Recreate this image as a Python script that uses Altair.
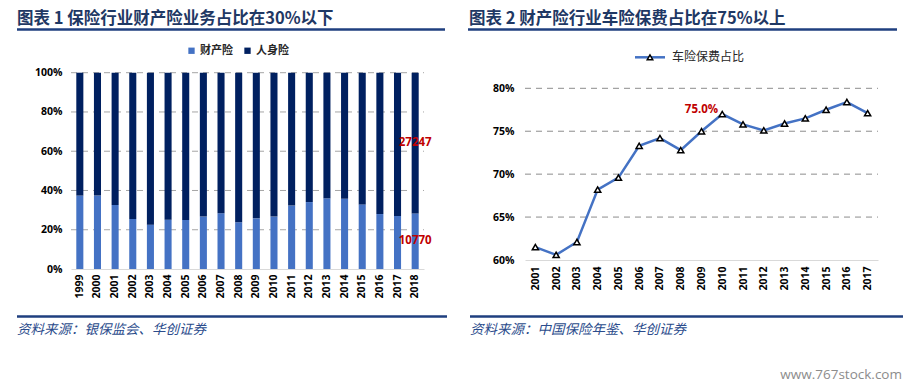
import altair as alt
import pandas as pd

# ---------------- data ----------------
years_left = [str(y) for y in range(1999, 2019)]
property_share = [0.374, 0.374, 0.326, 0.255, 0.226, 0.251, 0.250, 0.267, 0.284, 0.238,
                  0.258, 0.267, 0.323, 0.341, 0.360, 0.358, 0.329, 0.280, 0.270, 0.283]
series_names = ["财产险", "人身险"]
label_2018 = ["10770", "27247"]

years_right = [str(y) for y in range(2001, 2018)]
auto_share = [0.615, 0.606, 0.621, 0.682, 0.696, 0.733, 0.742, 0.728, 0.750, 0.770,
              0.758, 0.751, 0.759, 0.765, 0.775, 0.784, 0.771]
line_name = "车险保费占比"
highlight_year = "2009"

ticks_left = [0, 0.2, 0.4, 0.6, 0.8, 1.0]
ticks_right = [0.60, 0.65, 0.70, 0.75, 0.80]

title_left = "图表 1  保险行业财产险业务占比在30%以下"
title_right = "图表 2  财产险行业车险保费占比在75%以上"
source_left = "资料来源：银保监会、华创证券"
source_right = "资料来源：中国保险年鉴、华创证券"
watermark = "www.767stock.com"

# ---------------- tables ----------------
rows = []
for y, p in zip(years_left, property_share):
    rows.append({"year": y, "series": series_names[0], "share": p, "ord": 0})
    rows.append({"year": y, "series": series_names[1], "share": 1 - p, "ord": 1})
bars_df = pd.DataFrame(rows)

p18 = property_share[-1]
lab_df = pd.DataFrame({
    "year": [years_left[-1]] * 2,
    "pos": [p18 / 2, p18 + (1 - p18) / 2],
    "text": label_2018,
})
line_df = pd.DataFrame({"year": years_right, "share": auto_share})

AX_FONT = "Open Sans"
CJK = "Noto Sans CJK SC"
NAVY = "#1F3864"
RULE = "#1F3F7F"
BAR_LIGHT = "#4472C4"
BAR_DARK = "#002060"

W, H = 895, 376


def axis_common(**kw):
    base = dict(ticks=False, labelFont=AX_FONT, labelFontSize=10.5, labelFontWeight="bold",
                labelColor="#000000", title=None)
    base.update(kw)
    return alt.Axis(**base)


# ---------------- left panel ----------------
def xl():
    return alt.Scale(domain=years_left, range=[63, 416], paddingInner=0.6, paddingOuter=0.3)


def yl():
    return alt.Scale(domain=[0, 1], range=[261, 64.7], nice=False, zero=True)


grid_l = alt.Chart(pd.DataFrame({"v": ticks_left[1:]})).mark_rule(
    color="#A6A6A6", strokeDash=[6, 5], strokeWidth=1
).encode(
    y=alt.Y("v:Q", scale=yl(), axis=None),
    x=alt.value(63), x2=alt.value(416),
)

bars = alt.Chart(bars_df).mark_bar().encode(
    x=alt.X("year:N", scale=xl(), sort=years_left,
            axis=axis_common(orient="bottom", offset=-115, labelAngle=270, domainColor="#D9D9D9",
                             domainWidth=1, labelPadding=5)),
    y=alt.Y("share:Q", scale=yl(), stack="zero",
            axis=axis_common(orient="left", offset=-63, values=ticks_left, format=".0%",
                             domain=False, grid=False, labelPadding=9)),
    color=alt.Color("series:N", scale=alt.Scale(domain=series_names, range=[BAR_LIGHT, BAR_DARK]),
                    legend=alt.Legend(title=None, orient="none", direction="horizontal",
                                      legendX=178, legendY=37, symbolType="square", symbolSize=40,
                                      symbolStrokeWidth=0, labelFont=CJK, labelFontSize=11,
                                      labelFontWeight="bold", labelColor="#262626",
                                      labelOffset=3, columnPadding=9, padding=0)),
    order=alt.Order("ord:Q"),
)

labels_l = alt.Chart(lab_df).mark_text(
    color="#C00000", font=AX_FONT, fontSize=11.5, fontWeight="bold", baseline="middle", align="center"
).encode(
    x=alt.X("year:N", scale=xl(), axis=None),
    y=alt.Y("pos:Q", scale=yl(), axis=None),
    text="text:N",
)

# ---------------- right panel ----------------
def xr():
    return alt.Scale(type="point", domain=years_right, range=[517, 870], padding=0.5)


def yr():
    return alt.Scale(domain=[0.6, 0.8], range=[252, 80.3], nice=False, zero=False)


grid_r = alt.Chart(pd.DataFrame({"v": ticks_right[1:]})).mark_rule(
    color="#8C8C8C", strokeDash=[6, 5], strokeWidth=1
).encode(
    y=alt.Y("v:Q", scale=yr(), axis=None),
    x=alt.value(517), x2=alt.value(870),
)

line = alt.Chart(line_df).mark_line(color=BAR_LIGHT, strokeWidth=2.5).encode(
    x=alt.X("year:N", scale=xr(), sort=years_right,
            axis=axis_common(orient="bottom", offset=-124, labelAngle=270, domainColor="#D9D9D9",
                             domainWidth=1, labelPadding=6)),
    y=alt.Y("share:Q", scale=yr(),
            axis=axis_common(orient="left", offset=-517, values=ticks_right, format=".0%",
                             domain=False, grid=False, labelPadding=11)),
)

pts = alt.Chart(line_df).mark_point(
    shape="triangle-up", filled=True, fill="#FFFFFF", stroke="#000000", strokeWidth=1.5,
    size=38, opacity=1
).encode(
    x=alt.X("year:N", scale=xr(), axis=None),
    y=alt.Y("share:Q", scale=yr(), axis=None),
)

hl = alt.Chart(line_df).transform_filter(
    alt.datum.year == highlight_year
).mark_text(
    color="#C00000", font=AX_FONT, fontSize=11.5, fontWeight="bold", dy=-21, align="center"
).encode(
    x=alt.X("year:N", scale=xr(), axis=None),
    y=alt.Y("share:Q", scale=yr(), axis=None),
    text=alt.Text("share:Q", format=".1%"),
)


# ---------------- decorations ----------------
def txt(s, x, y, **kw):
    return alt.Chart(pd.DataFrame({"t": [s]})).mark_text(baseline="middle", **kw).encode(
        x=alt.value(x), y=alt.value(y), text="t:N")


def hrule(x1, x2, y, color, w):
    return alt.Chart(pd.DataFrame({"a": [0]})).mark_rule(color=color, strokeWidth=w).encode(
        x=alt.value(x1), x2=alt.value(x2), y=alt.value(y))


deco = [
    txt(title_left, 9, 11, align="left", font=CJK, fontSize=16.5, fontWeight="bold", color=NAVY),
    txt(title_right, 461, 11, align="left", font=CJK, fontSize=16.5, fontWeight="bold", color=NAVY),
    hrule(9, 437, 21.5, RULE, 2.5),
    hrule(460, 889, 21.5, RULE, 2.5),
    hrule(9, 439, 308.5, RULE, 2.5),
    hrule(462, 895, 308.5, RULE, 2.5),
    txt(source_left, 9, 322, align="left", font=CJK, fontSize=13.5, fontStyle="italic", color="#2B4C8C"),
    txt(source_right, 462, 322, align="left", font=CJK, fontSize=13.5, fontStyle="italic", color="#2B4C8C"),
    txt(watermark, 894, 367, align="right", font="Open Sans", fontSize=13.5, color="#8C8C8C"),
    # right legend
    hrule(627, 657, 49.3, BAR_LIGHT, 2.5),
    alt.Chart(pd.DataFrame({"a": [0]})).mark_point(
        shape="triangle-up", filled=True, fill="#FFFFFF", stroke="#000000", strokeWidth=1.5,
        size=30, opacity=1).encode(x=alt.value(642), y=alt.value(49.3)),
    txt(line_name, 664, 49.3, align="left", font=CJK, fontSize=12, color="#262626"),
]

chart = alt.layer(grid_l, bars, labels_l, grid_r, line, pts, hl, *deco).resolve_scale(
    x="independent", y="independent", color="independent"
).resolve_axis(x="independent", y="independent").properties(
    width=W, height=H, autosize=alt.AutoSizeParams(type="none"), padding=0, background="#FFFFFF"
).configure_view(stroke=None)

chart.save("out.html", embed_options={"renderer": "svg", "actions": False})
